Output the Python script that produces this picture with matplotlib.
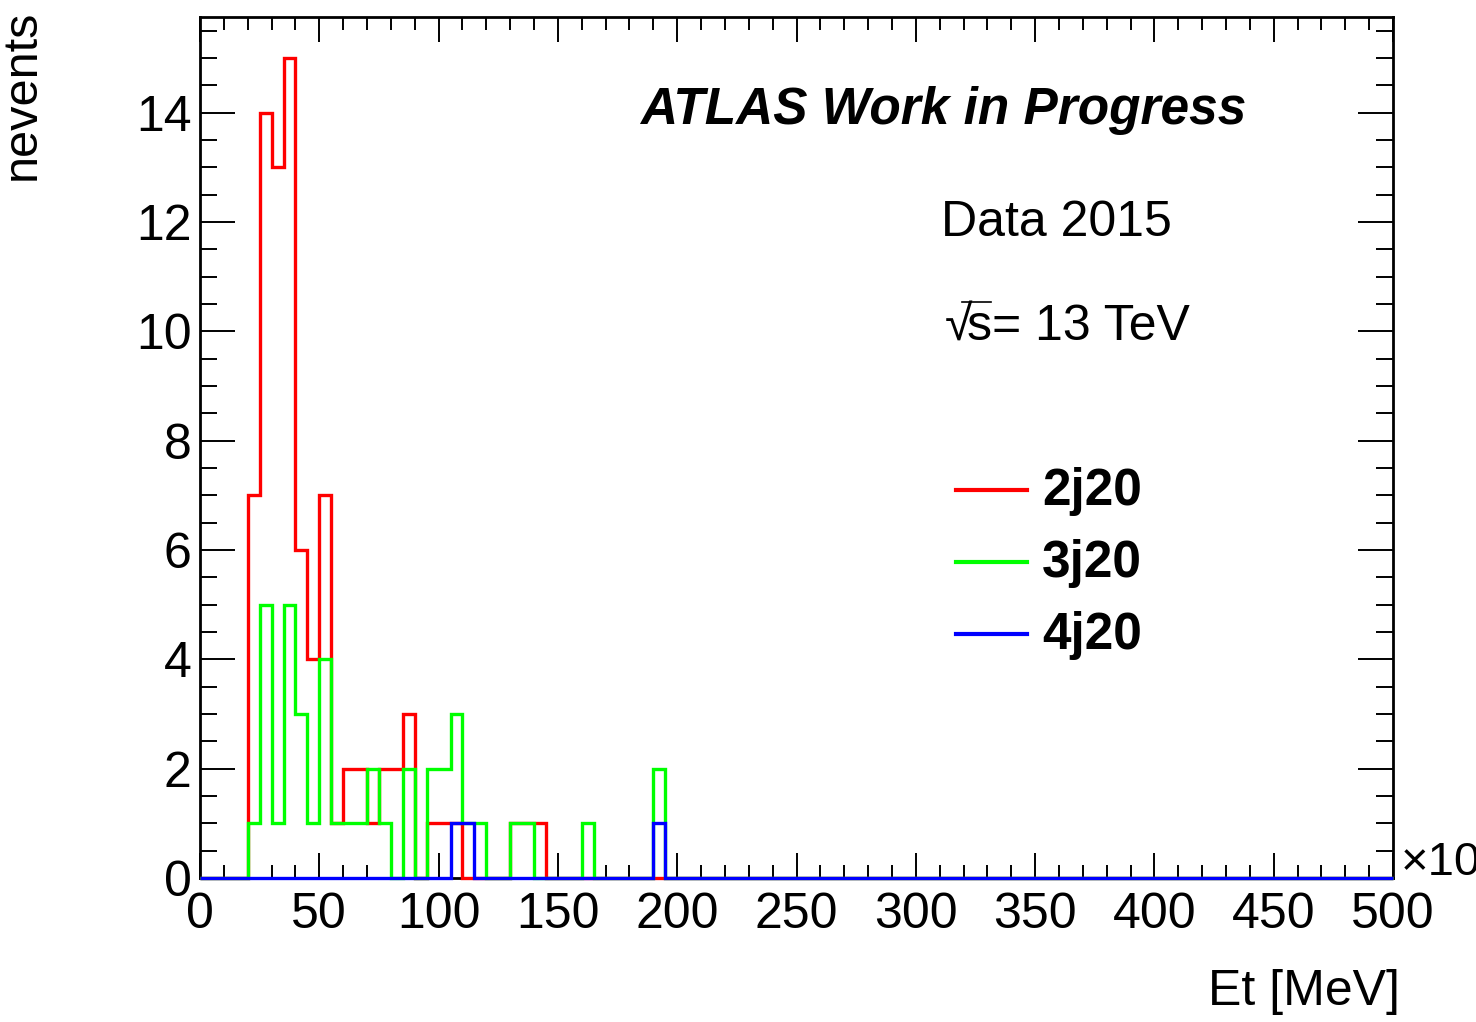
import numpy as np
import matplotlib
matplotlib.use("Agg")
import matplotlib.pyplot as plt
from matplotlib.ticker import MultipleLocator

plt.rcParams["font.family"] = ["Liberation Sans", "DejaVu Sans"]

# binning: 100 bins of width 5 from 0 to 500 (x10^3 MeV)
bin_edges = np.arange(0, 505, 5)

# nonzero bins: lower edge -> count
bins_2j20 = [20, 25, 30, 35, 40, 45, 50, 55, 60, 65, 70, 75, 80, 85, 95, 100, 105, 130, 135, 140]
counts_2j20 = [7, 14, 13, 15, 6, 4, 7, 1, 2, 2, 1, 2, 2, 3, 1, 1, 1, 1, 1, 1]

bins_3j20 = [20, 25, 30, 35, 40, 45, 50, 55, 60, 65, 70, 75, 85, 95, 100, 105, 110, 115, 130, 135, 160, 190]
counts_3j20 = [1, 5, 1, 5, 3, 1, 4, 1, 1, 1, 2, 1, 2, 2, 2, 3, 1, 1, 1, 1, 1, 2]

bins_4j20 = [105, 110, 190]
counts_4j20 = [1, 1, 1]

series = [
    ("2j20", bins_2j20, counts_2j20, "#ff0000"),
    ("3j20", bins_3j20, counts_3j20, "#00ff00"),
    ("4j20", bins_4j20, counts_4j20, "#0000ff"),
]


def fill_hist(lows, counts):
    h = np.zeros(len(bin_edges) - 1)
    for lo, c in zip(lows, counts):
        h[np.searchsorted(bin_edges, lo)] = c
    return h


W, H = 1476, 1022
fig = plt.figure(figsize=(W / 100, H / 100), dpi=100)
ax = fig.add_axes([200 / W, 1 - 878 / H, (1393 - 200) / W, (878 - 17) / H])

for name, lows, counts, col in series:
    ax.stairs(fill_hist(lows, counts), bin_edges, baseline=None, color=col, lw=2.4,
              clip_on=False, zorder=3)

ax.set_xlim(0, 500)
ax.set_ylim(0, 15.75)
ax.xaxis.set_major_locator(MultipleLocator(50))
ax.xaxis.set_minor_locator(MultipleLocator(10))
ax.yaxis.set_major_locator(MultipleLocator(2))
ax.yaxis.set_minor_locator(MultipleLocator(0.5))
ax.tick_params(which="both", direction="in", top=True, right=True, width=1.4, labelsize=36)
ax.tick_params(axis="x", which="major", length=18, pad=10)
ax.tick_params(axis="x", which="minor", length=9.5)
ax.tick_params(axis="y", which="major", length=25, pad=6)
ax.tick_params(axis="y", which="minor", length=12.5)
for s in ax.spines.values():
    s.set_linewidth(2)

# axis titles
fig.text(1400 / W, 1 - 1005 / H, "Et [MeV]", ha="right", va="baseline", fontsize=36)
fig.text(45 / W, 1 - 10 / H, "nevents", rotation=90, ha="right", va="top", fontsize=35)
fig.text(1401 / W, 1 - 875 / H, "×10", ha="left", va="baseline", fontsize=34)

# labels
fig.text(640 / W, 1 - 124 / H, "ATLAS Work in Progress", fontsize=37,
         fontweight="bold", fontstyle="italic", ha="left", va="baseline")
fig.text(941 / W, 1 - 236 / H, "Data 2015", fontsize=36, ha="left", va="baseline")
fig.text(945 / W, 1 - 340 / H, "√", fontsize=36, ha="left", va="baseline")
fig.text(967 / W, 1 - 340 / H, "s= 13 TeV", fontsize=36, ha="left", va="baseline")
fig.add_artist(plt.Line2D([962 / W, 991 / W], [1 - 302 / H, 1 - 302 / H], color="black", lw=1.2))

# legend
leg_y = [490, 562, 634]
for (name, lows, counts, col), y in zip(series, leg_y):
    fig.add_artist(plt.Line2D([956 / W, 1027 / W], [1 - y / H, 1 - y / H], color=col, lw=3))
    fig.text(1042 / W, 1 - (y + 15) / H, name, fontsize=37, fontweight="bold",
             ha="left", va="baseline")

fig.savefig("out.png", dpi=100)
